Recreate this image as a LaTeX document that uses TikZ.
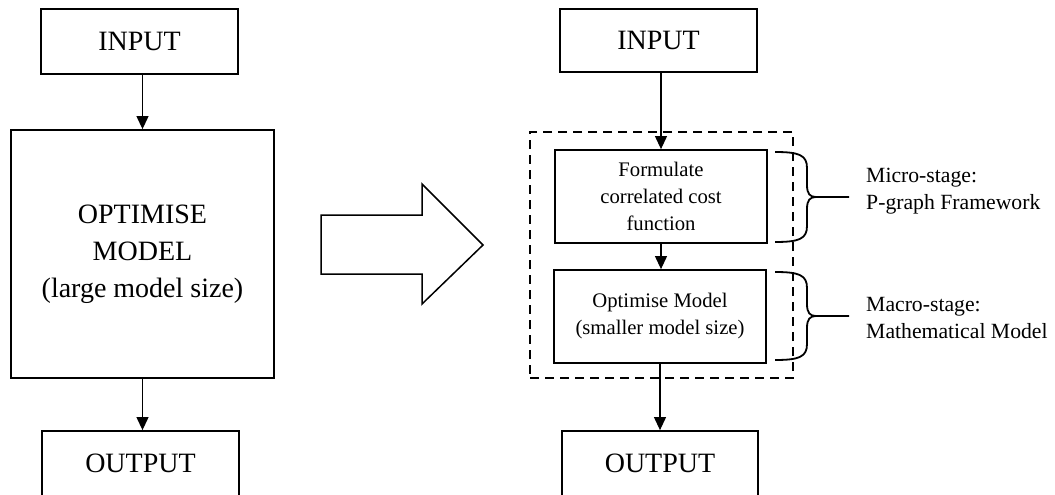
\documentclass[tikz,border=0pt]{standalone}
\usepackage{fontspec}
\setmainfont{Liberation Serif}
\usetikzlibrary{arrows.meta}
\begin{document}
\begin{tikzpicture}[x=1pt,y=-1pt,
  box/.style={draw, line width=1.8pt, fill=white, inner sep=0pt, align=center},
  bigtxt/.style={font=\fontsize{28}{37}\selectfont},
  smalltxt/.style={font=\fontsize{20.7}{27}\selectfont},
  lbl/.style={font=\fontsize{21.7}{27}\selectfont, align=left, anchor=west, inner sep=0pt},
  arr/.style={line width=1.1pt, -{Triangle[length=13pt,width=12pt]}},
  brc/.style={line width=1.8pt, line join=round},
  dashbox/.style={draw, line width=1.8pt, dash pattern=on 9pt off 6pt}]
\useasboundingbox (0,0) rectangle (1055,495);
\clip (0,0) rectangle (1055,495);

% left column: single-stage optimisation
\node[box, bigtxt, minimum width=197pt, minimum height=65pt] (in1) at (139.5,41.5) {INPUT};
\node[box, bigtxt, minimum width=263pt, minimum height=248pt] (opt1) at (142.5,254)
  {OPTIMISE\\MODEL\\(large model size)};
\node[box, bigtxt, minimum width=197pt, minimum height=68pt] (out1) at (140.5,465)
  {\raisebox{3pt}{OUTPUT}};
\draw[arr] (opt1.north |- in1.south) -- (opt1.north);
\draw[arr] (opt1.south) -- (opt1.south |- out1.north);

% block arrow between the two schemes
\draw[line width=1.5pt, line join=miter] (321,215) -- (422,215) -- (422,184) -- (483,245)
  -- (422,304) -- (422,274) -- (321,274) -- cycle;

% right column: two-stage optimisation
\node[dashbox, minimum width=263pt, minimum height=246pt] (stage) at (661.5,255) {};
\node[box, bigtxt, minimum width=197pt, minimum height=63pt] (in2) at (658.5,40.5) {INPUT};
\node[box, smalltxt, minimum width=212pt, minimum height=93pt] (micro) at (661,196.5)
  {Formulate\\correlated cost\\function};
\node[box, smalltxt, minimum width=212pt, minimum height=93pt] (macro) at (660,316.5)
  {Optimise Model\\(smaller model size)};
\node[box, bigtxt, minimum width=196pt, minimum height=68pt] (out2) at (660,465)
  {\raisebox{3pt}{OUTPUT}};
\draw[arr] (micro.north |- in2.south) -- (micro.north);
\draw[arr] (micro.south) -- (micro.south |- macro.north);
\draw[arr] (macro.south) -- (macro.south |- out2.north);

% curly braces with their stage labels
\coordinate (t1) at (849,197);
\coordinate (t2) at (849,316);
\draw[brc] (775,152) .. controls (799,152) and (807,155) .. (807,168) -- (807,185)
  .. controls (807,194) and (810,197) .. (816,197) -- (t1);
\draw[brc] (775,242) .. controls (799,242) and (807,239) .. (807,226) -- (807,209)
  .. controls (807,200) and (810,197) .. (816,197);
\draw[brc] (775,272) .. controls (799,272) and (807,275) .. (807,288) -- (807,304)
  .. controls (807,313) and (810,316) .. (816,316) -- (t2);
\draw[brc] (775,360) .. controls (799,360) and (807,357) .. (807,344) -- (807,328)
  .. controls (807,319) and (810,316) .. (816,316);
\node[lbl] (microlbl) at (866,191.5) {Micro-stage:\\P-graph Framework};
\node[lbl] (macrolbl) at (866,318) {Macro-stage:\\Mathematical Model};
\end{tikzpicture}
\end{document}
